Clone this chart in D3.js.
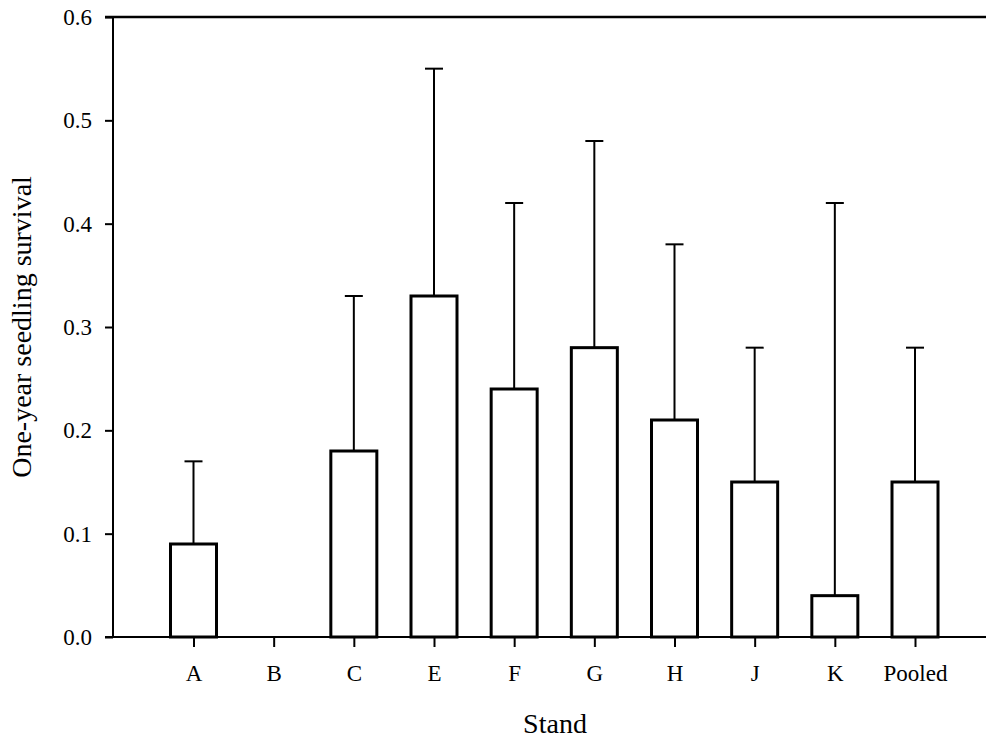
<!DOCTYPE html>
<html>
<head>
<meta charset="utf-8">
<script src="https://cdn.jsdelivr.net/npm/d3@7"></script>
<style>
  body { margin: 0; background: #fff; }
  text { font-family: "Liberation Serif", "Times New Roman", serif; fill: #000; }
</style>
</head>
<body>
<div id="chart"></div>
<script>
// stands and survival estimates
const stands = ["A", "B", "C", "E", "F", "G", "H", "J", "K", "Pooled"];
const survival = [0.09, 0, 0.18, 0.33, 0.24, 0.28, 0.21, 0.15, 0.04, 0.15];
const upper = [0.17, null, 0.33, 0.55, 0.42, 0.48, 0.38, 0.28, 0.42, 0.28];
const yTicks = [0, 0.1, 0.2, 0.3, 0.4, 0.5, 0.6];

const width = 986, height = 738;
const plotL = 113, plotR = 986, plotT = 17, plotB = 637;

const data = stands.map((s, i) => ({ stand: s, value: survival[i], hi: upper[i] }));

const svg = d3.select("#chart").append("svg")
    .attr("width", width).attr("height", height);

const x = d3.scalePoint().domain(stands).range([193.5, 915]);
const y = d3.scaleLinear().domain([0, 0.6]).range([plotB, plotT]);
const barW = 46;

// y axis
const yAxis = d3.axisLeft(y).tickValues(yTicks).tickFormat(d3.format(".1f"))
    .tickSize(8).tickSizeOuter(0).tickPadding(13);
const gy = svg.append("g").attr("transform", `translate(${plotL},0)`).call(yAxis);
gy.select(".domain").remove();
gy.selectAll(".tick line").attr("stroke", "#000").attr("stroke-width", 2);
gy.selectAll(".tick text").style("font-size", "23px");

// x axis
const xAxis = d3.axisBottom(x).tickSize(10).tickSizeOuter(0).tickPadding(18);
const gx = svg.append("g").attr("transform", `translate(0,${plotB})`).call(xAxis);
gx.select(".domain").remove();
gx.selectAll(".tick line").attr("stroke", "#000").attr("stroke-width", 2);
gx.selectAll(".tick text").style("font-size", "23px");

// frame lines: left, bottom and top
svg.append("line").attr("x1", plotL).attr("x2", plotL).attr("y1", plotT - 1).attr("y2", plotB + 1)
    .attr("stroke", "#000").attr("stroke-width", 2);
svg.append("line").attr("x1", plotL - 8).attr("x2", plotR).attr("y1", plotB).attr("y2", plotB)
    .attr("stroke", "#000").attr("stroke-width", 2);
svg.append("line").attr("x1", plotL - 8).attr("x2", plotR).attr("y1", plotT).attr("y2", plotT)
    .attr("stroke", "#000").attr("stroke-width", 2.5);

// error bars (upper only)
const err = svg.append("g").selectAll("g").data(data.filter(d => d.hi != null)).enter().append("g");
err.append("line")
    .attr("x1", d => x(d.stand)).attr("x2", d => x(d.stand))
    .attr("y1", d => y(d.value)).attr("y2", d => y(d.hi))
    .attr("stroke", "#000").attr("stroke-width", 2);
err.append("line")
    .attr("x1", d => x(d.stand) - 9).attr("x2", d => x(d.stand) + 9)
    .attr("y1", d => y(d.hi)).attr("y2", d => y(d.hi))
    .attr("stroke", "#000").attr("stroke-width", 2);

// bars
svg.append("g").selectAll("rect").data(data.filter(d => d.value > 0)).enter().append("rect")
    .attr("x", d => x(d.stand) - barW / 2)
    .attr("width", barW)
    .attr("y", d => y(d.value))
    .attr("height", d => y(0) - y(d.value))
    .attr("fill", "#fff")
    .attr("stroke", "#000")
    .attr("stroke-width", 3);

// axis titles
svg.append("text")
    .attr("transform", `translate(31,${(plotT + plotB) / 2}) rotate(-90)`)
    .attr("text-anchor", "middle")
    .style("font-size", "28px")
    .text("One-year seedling survival");
svg.append("text")
    .attr("x", 555).attr("y", 733)
    .attr("text-anchor", "middle")
    .style("font-size", "28px")
    .text("Stand");
</script>
</body>
</html>
